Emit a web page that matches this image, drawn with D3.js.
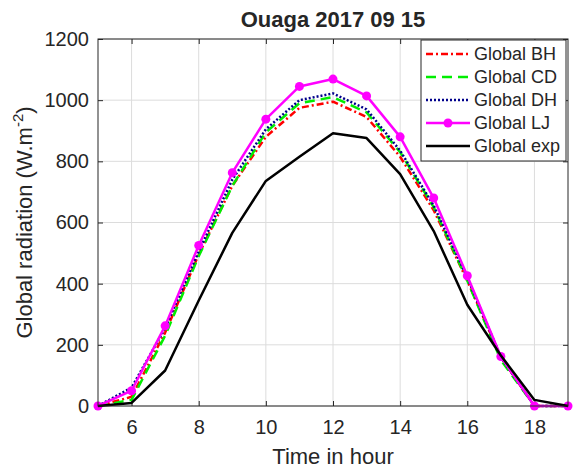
<!DOCTYPE html>
<html>
<head>
<meta charset="utf-8">
<script src="https://cdn.jsdelivr.net/npm/d3@7"></script>
<style>
  body { margin: 0; background: #fff; }
  text { font-family: "Liberation Sans", Arial, sans-serif; fill: #262626; }
</style>
</head>
<body>
<div id="chart"></div>
<script>
// hours of the day
const hours = [5, 6, 7, 8, 9, 10, 11, 12, 13, 14, 15, 16, 17, 18, 19];
// global radiation, W.m-2
const globalBH = [0, 30, 240, 495, 720, 880, 975, 995, 945, 815, 640, 410, 160, 0, 0];
const globalCD = [0, 20, 230, 490, 720, 895, 990, 1010, 960, 830, 650, 410, 150, 0, 0];
const globalDH = [0, 60, 255, 505, 740, 905, 1000, 1022, 970, 835, 655, 420, 160, 0, 0];
const globalLJ = [0, 50, 262, 525, 763, 938, 1045, 1069, 1014, 880, 680, 426, 162, 0, 0];
const globalExp = [0, 10, 116, 345, 566, 736, 815, 892, 876, 758, 572, 331, 165, 20, 0];
const xTicks = [6, 8, 10, 12, 14, 16, 18];
const yTicks = [0, 200, 400, 600, 800, 1000, 1200];

const series = [
  {name: 'Global BH', values: globalBH, color: '#ff0000', dash: '7,3,2,3', width: 2.5},
  {name: 'Global CD', values: globalCD, color: '#00ee00', dash: '10,6', width: 2.5},
  {name: 'Global DH', values: globalDH, color: '#00008b', dash: '2,2', width: 2.5},
  {name: 'Global LJ', values: globalLJ, color: '#ff00ff', dash: null, width: 2.5, marker: true},
  {name: 'Global exp', values: globalExp, color: '#000000', dash: null, width: 2.5}
];

const W = 577, H = 470;
const margin = {top: 39, right: 9, bottom: 64, left: 98};
const iw = W - margin.left - margin.right;
const ih = H - margin.top - margin.bottom;

const svg = d3.select('#chart').append('svg')
    .attr('width', W)
    .attr('height', H);

svg.append('rect').attr('width', W).attr('height', H).attr('fill', '#fff');

const g = svg.append('g')
    .attr('transform', `translate(${margin.left},${margin.top})`);

const x = d3.scaleLinear().domain([5, 19]).range([0, iw]);
const y = d3.scaleLinear().domain([0, 1200]).range([ih, 0]);

// grid
g.append('g').selectAll('line').data(xTicks).join('line')
    .attr('x1', d => x(d)).attr('x2', d => x(d))
    .attr('y1', 0).attr('y2', ih)
    .attr('stroke', '#dcdcdc').attr('stroke-width', 1);
g.append('g').selectAll('line').data(yTicks).join('line')
    .attr('x1', 0).attr('x2', iw)
    .attr('y1', d => y(d)).attr('y2', d => y(d))
    .attr('stroke', '#dcdcdc').attr('stroke-width', 1);

// axes, ticks pointing inward
const styleAxis = sel => {
  sel.select('.domain').remove();
  sel.selectAll('.tick line').attr('stroke', '#262626');
  sel.selectAll('.tick text').attr('font-size', 20).attr('fill', '#262626');
};

g.append('g')
    .attr('transform', `translate(0,${ih})`)
    .call(d3.axisBottom(x).tickValues(xTicks).tickSizeInner(-5).tickSizeOuter(0).tickPadding(14))
    .call(styleAxis);
g.append('g')
    .call(d3.axisTop(x).tickValues(xTicks).tickSizeInner(-5).tickSizeOuter(0).tickFormat(''))
    .call(styleAxis);
g.append('g')
    .call(d3.axisLeft(y).tickValues(yTicks).tickFormat(d3.format('d')).tickSizeInner(-5).tickSizeOuter(0).tickPadding(9))
    .call(styleAxis);
g.append('g')
    .attr('transform', `translate(${iw},0)`)
    .call(d3.axisRight(y).tickValues(yTicks).tickSizeInner(-5).tickSizeOuter(0).tickFormat(''))
    .call(styleAxis);

// lines
const line = d3.line()
    .x(d => x(d[0]))
    .y(d => y(d[1]));

series.forEach(s => {
  const pts = hours.map((h, i) => [h, s.values[i]]);
  g.append('path')
      .datum(pts)
      .attr('fill', 'none')
      .attr('stroke', s.color)
      .attr('stroke-width', s.width)
      .attr('stroke-dasharray', s.dash)
      .attr('stroke-linejoin', 'round')
      .attr('d', line);
  if (s.marker) {
    g.append('g').selectAll('circle').data(pts).join('circle')
        .attr('cx', d => x(d[0]))
        .attr('cy', d => y(d[1]))
        .attr('r', 4.5)
        .attr('fill', s.color);
  }
});

// box
g.append('rect')
    .attr('width', iw).attr('height', ih)
    .attr('fill', 'none')
    .attr('stroke', '#262626')
    .attr('stroke-width', 1);

// legend
const lg = svg.append('g').attr('transform', 'translate(421,40)');
lg.append('rect')
    .attr('width', 145).attr('height', 121)
    .attr('fill', '#fff')
    .attr('stroke', '#262626')
    .attr('stroke-width', 1);
series.forEach((s, i) => {
  const yy = 14 + i * 23;
  lg.append('line')
      .attr('x1', 5).attr('x2', 49)
      .attr('y1', yy).attr('y2', yy)
      .attr('stroke', s.color)
      .attr('stroke-width', s.width)
      .attr('stroke-dasharray', s.dash);
  if (s.marker) {
    lg.append('circle').attr('cx', 27).attr('cy', yy).attr('r', 4.5).attr('fill', s.color);
  }
  lg.append('text')
      .attr('x', 53).attr('y', yy)
      .attr('dy', '0.35em')
      .attr('font-size', 18)
      .text(s.name);
});

// title and labels
svg.append('text')
    .attr('x', margin.left + iw / 2).attr('y', 27)
    .attr('text-anchor', 'middle')
    .attr('font-size', 22)
    .attr('font-weight', 'bold')
    .attr('fill', '#000')
    .text('Ouaga 2017 09 15');

svg.append('text')
    .attr('x', margin.left + iw / 2).attr('y', 464)
    .attr('text-anchor', 'middle')
    .attr('font-size', 22)
    .text('Time in hour');

const yl = svg.append('text')
    .attr('transform', `translate(32,${margin.top + ih / 2}) rotate(-90)`)
    .attr('text-anchor', 'middle')
    .attr('font-size', 22);
yl.append('tspan').text('Global radiation (W.m');
yl.append('tspan').attr('dy', -9).attr('font-size', 15).text('-2');
yl.append('tspan').attr('dy', 9).text(')');
</script>
</body>
</html>
